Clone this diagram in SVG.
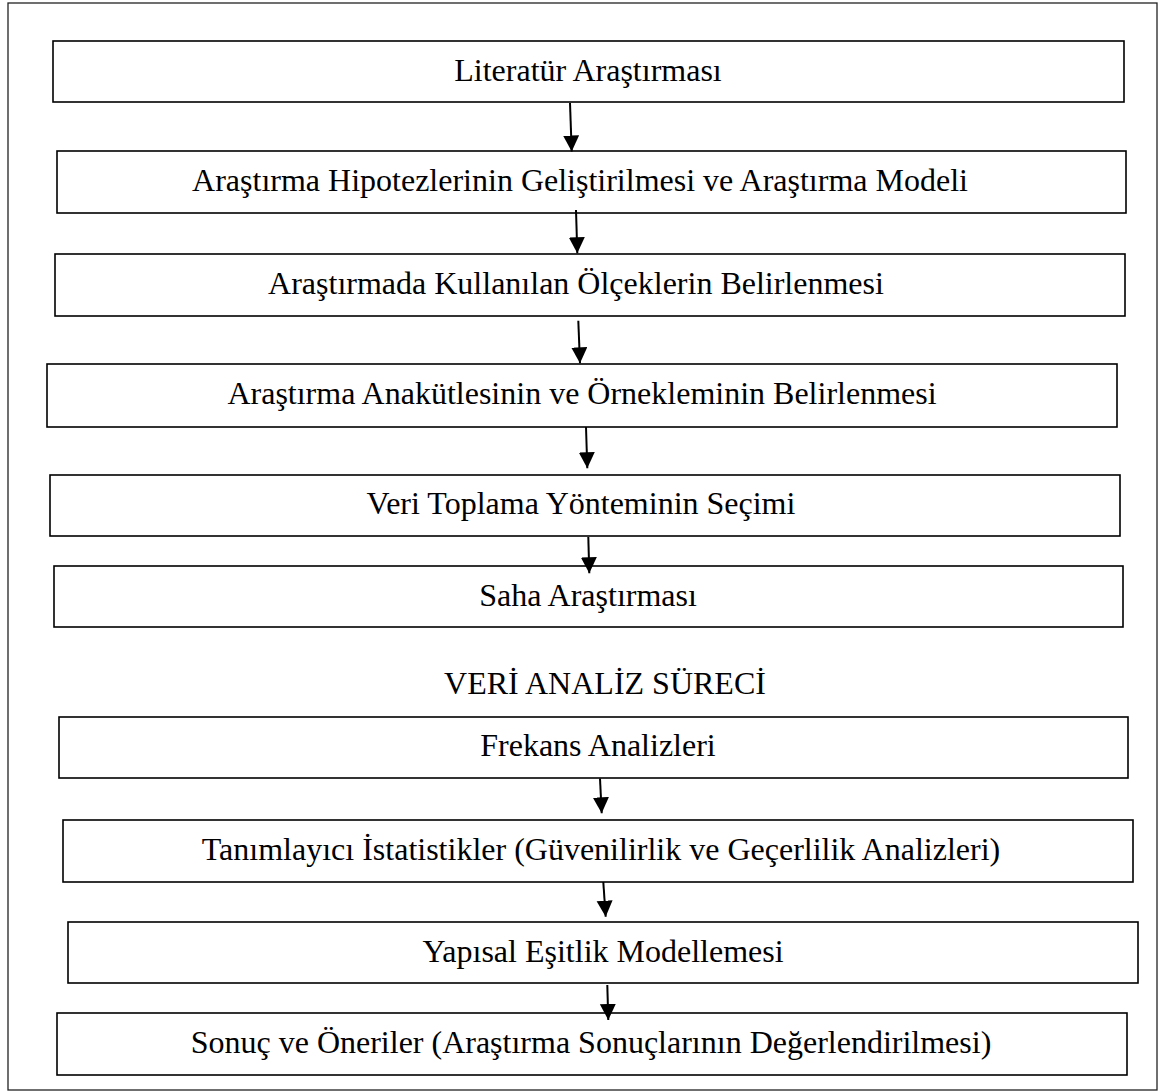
<svg xmlns="http://www.w3.org/2000/svg" width="1173" height="1091" viewBox="0 0 1173 1091">
<style>
.box{fill:#fff;stroke:#000;stroke-width:1.6}
.frame{fill:#fff;stroke:#222;stroke-width:1.3}
.t{font-family:"Liberation Serif","Times New Roman",serif;font-size:32px;fill:#000;text-anchor:middle}
.c{stroke:#000;stroke-width:2;fill:none}
</style>
<defs>
<marker id="ah" markerUnits="userSpaceOnUse" markerWidth="17" markerHeight="17" refX="16" refY="8" orient="auto">
<path d="M0,0 L16,8 L0,16 Z" fill="#000"/>
</marker>
</defs>
<rect x="0" y="0" width="1173" height="1091" fill="#fff"/>
<rect class="frame" x="8" y="3" width="1149" height="1087"/>
<g id="n1"><rect class="box" x="53" y="41" width="1071" height="61"/><text class="t" x="588" y="81">Literatür Araştırması</text></g>
<g id="n2"><rect class="box" x="57" y="151" width="1069" height="62"/><text class="t" x="580" y="191">Araştırma Hipotezlerinin Geliştirilmesi ve Araştırma Modeli</text></g>
<g id="n3"><rect class="box" x="55" y="254" width="1070" height="62"/><text class="t" x="576" y="294">Araştırmada Kullanılan Ölçeklerin Belirlenmesi</text></g>
<g id="n4"><rect class="box" x="47" y="364" width="1070" height="63"/><text class="t" x="582" y="404">Araştırma Anakütlesinin ve Örnekleminin Belirlenmesi</text></g>
<g id="n5"><rect class="box" x="50" y="475" width="1070" height="61"/><text class="t" x="581" y="514">Veri Toplama Yönteminin Seçimi</text></g>
<g id="n6"><rect class="box" x="54" y="566" width="1069" height="61"/><text class="t" x="588" y="606">Saha Araştırması</text></g>
<g id="title"><text class="t" x="605" y="694">VERİ ANALİZ SÜRECİ</text></g>
<g id="n7"><rect class="box" x="59" y="717" width="1069" height="61"/><text class="t" x="598" y="756">Frekans Analizleri</text></g>
<g id="n8"><rect class="box" x="63" y="820" width="1070" height="62"/><text class="t" x="601" y="860">Tanımlayıcı İstatistikler (Güvenilirlik ve Geçerlilik Analizleri)</text></g>
<g id="n9"><rect class="box" x="68" y="922" width="1070" height="61"/><text class="t" x="603" y="962">Yapısal Eşitlik Modellemesi</text></g>
<g id="n10"><rect class="box" x="57" y="1013" width="1070" height="62"/><text class="t" x="591" y="1053">Sonuç ve Öneriler (Araştırma Sonuçlarının Değerlendirilmesi)</text></g>
<g id="connectors">
<line class="c" x1="570" y1="103" x2="571.7" y2="151.5" marker-end="url(#ah)"/>
<line class="c" x1="576" y1="210" x2="577.3" y2="253.3" marker-end="url(#ah)"/>
<line class="c" x1="578.3" y1="320.7" x2="580" y2="363.3" marker-end="url(#ah)"/>
<line class="c" x1="586" y1="427" x2="587.3" y2="468.3" marker-end="url(#ah)"/>
<line class="c" x1="588.3" y1="537" x2="589.3" y2="573.3" marker-end="url(#ah)"/>
<line class="c" x1="600" y1="778.5" x2="601.7" y2="813.3" marker-end="url(#ah)"/>
<line class="c" x1="603.3" y1="882" x2="605.7" y2="916.7" marker-end="url(#ah)"/>
<line class="c" x1="607.3" y1="985" x2="608.3" y2="1020" marker-end="url(#ah)"/>
</g>
</svg>
